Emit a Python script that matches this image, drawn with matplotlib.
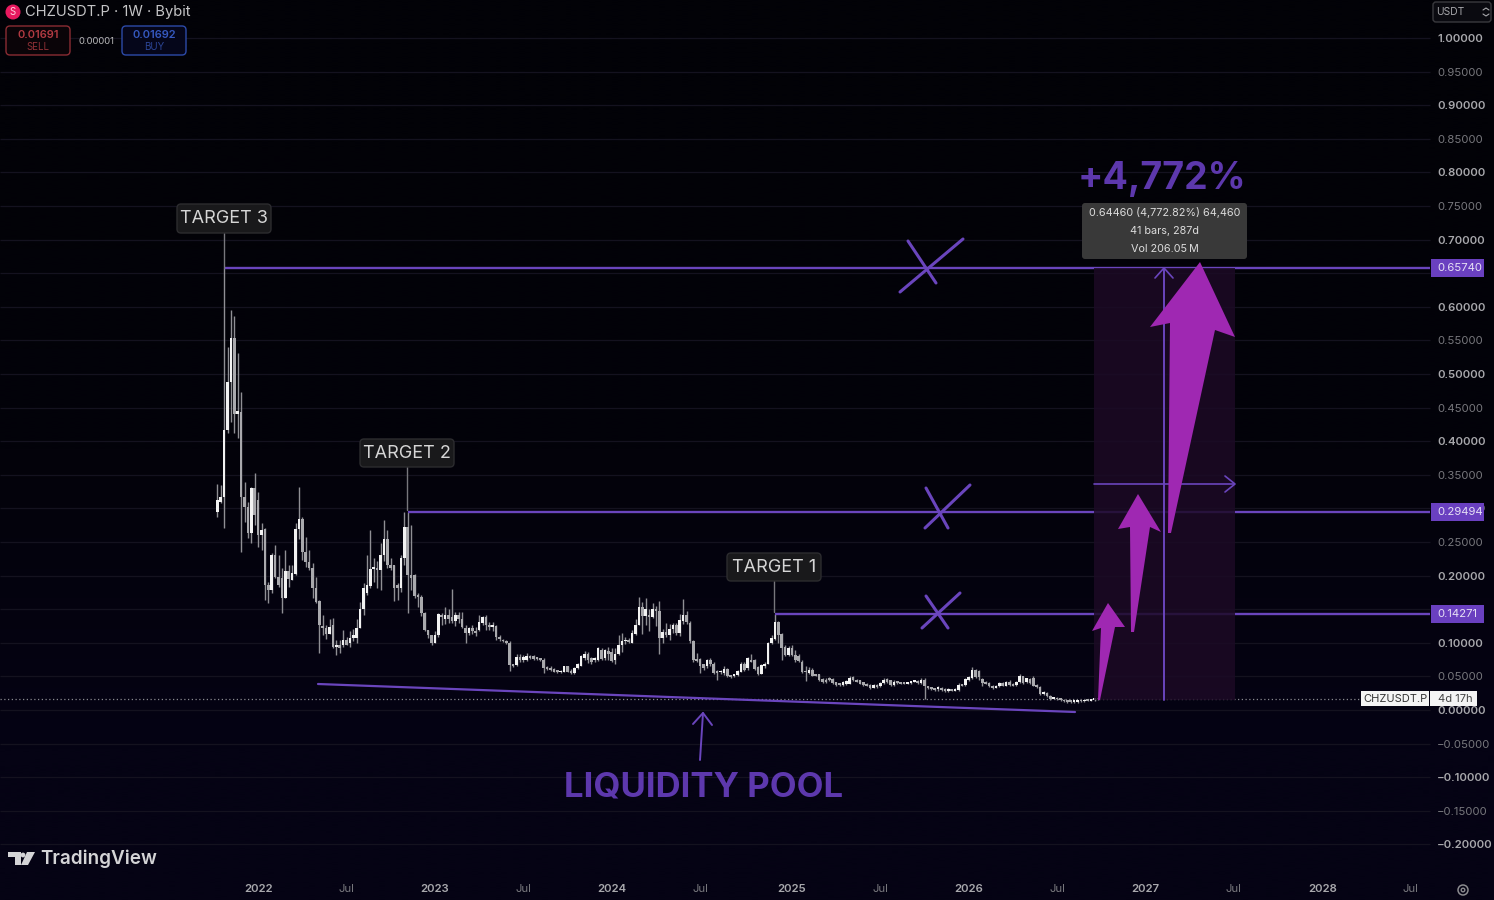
import numpy as np
import matplotlib
matplotlib.use("Agg")
import matplotlib.pyplot as plt
from matplotlib.patches import FancyBboxPatch, Polygon, Rectangle, Circle

plt.rcParams['font.family'] = ['Inter', 'DejaVu Sans']

# ---- weekly candles (CHZUSDT.P, price) ----
opens = [
 .295,.310,.317,.417,.488,.553,.440,.443,.317,.302, .263,.330,.312,.260,.269,.186,.178,.231,.198,.196,
 .167,.207,.193,.202,.269,.284,.235,.220,.211,.182, .162,.125,.122,.113,.126,.094,.097,.097,.104,.100,
 .107,.107,.122,.151,.174,.185,.210,.212,.208,.231, .255,.216,.216,.186,.181,.226,.273,.201,.201,.170,
 .168,.145,.119,.112,.100,.112,.141,.136,.142,.139, .132,.141,.136,.122,.114,.122,.117,.119,.129,.139,
 .127,.123,.125,.108,.104,.103,.100,.068,.067,.079, .075,.075,.080,.080,.078,.077,.075,.064,.063,.061,
 .059,.056,.057,.065,.057,.055,.062,.066,.077,.084, .077,.074,.075,.090,.077,.088,.087,.075,.083,.097,
 .102,.104,.100,.113,.126,.154,.140,.141,.139,.150, .148,.107,.116,.112,.121,.126,.114,.132,.141,.130,
 .102,.076,.076,.068,.066,.075,.069,.057,.056,.055, .061,.051,.050,.052,.057,.069,.062,.074,.075,.064,
 .054,.065,.069,.100,.105,.131,.113,.094,.082,.092, .082,.080,.072,.058,.055,.060,.052,.053,.046,.045,
 .047,.046,.041,.039,.037,.038,.039,.049,.045,.044, .041,.039,.037,.033,.037,.035,.040,.046,.044,.037,
 .042,.041,.040,.039,.040,.042,.043,.040,.044,.035, .033,.032,.031,.033,.031,.028,.030,.029,.030,.037,
 .037,.044,.047,.059,.058,.046,.042,.040,.036,.033, .035,.040,.036,.042,.039,.037,.041,.050,.041,.046,
 .047,.037,.034,.024,.026,.021,.017,.018,.016,.015, .014,.013,.012,.012,.014,.013,.014,.014,.015,.016]
closes = [
 .312,.317,.417,.488,.553,.440,.445,.317,.302,.263, .330,.290,.260,.268,.186,.178,.231,.198,.186,.167,
 .207,.195,.204,.269,.284,.235,.220,.211,.182,.161, .126,.122,.113,.124,.094,.097,.093,.104,.097,.107,
 .112,.122,.151,.181,.186,.210,.212,.208,.231,.255, .216,.212,.181,.181,.226,.273,.201,.197,.170,.168,
 .144,.119,.112,.100,.112,.143,.139,.142,.136,.132, .141,.136,.123,.114,.122,.117,.114,.131,.138,.126,
 .123,.126,.108,.105,.102,.100,.067,.066,.079,.074, .079,.080,.078,.076,.076,.074,.063,.061,.060,.057,
 .056,.058,.065,.057,.055,.063,.068,.080,.084,.074, .072,.077,.092,.076,.089,.084,.073,.084,.097,.102,
 .104,.101,.115,.126,.154,.140,.150,.139,.151,.148, .107,.116,.112,.121,.126,.114,.134,.141,.131,.102,
 .074,.073,.065,.062,.074,.069,.055,.055,.058,.061, .050,.049,.053,.058,.069,.060,.077,.072,.061,.054,
 .067,.069,.100,.107,.131,.112,.092,.082,.092,.082, .074,.073,.056,.056,.060,.051,.051,.044,.041,.042,
 .044,.040,.037,.037,.042,.043,.048,.044,.042,.039, .037,.036,.032,.037,.034,.040,.045,.042,.037,.042,
 .040,.039,.039,.041,.042,.044,.040,.044,.036,.032, .031,.030,.033,.030,.028,.031,.029,.031,.037,.036,
 .046,.049,.060,.049,.049,.040,.039,.035,.032,.036, .040,.036,.041,.037,.036,.042,.051,.040,.047,.040,
 .036,.034,.024,.027,.021,.016,.018,.016,.015,.013, .012,.012,.012,.014,.013,.014,.0135,.015,.016,.0169]
highs = [
 .336,.335,.657,.540,.595,.586,.531,.473,.339,.310, .332,.353,.324,.278,.271,.190,.234,.246,.231,.211,
 .238,.216,.216,.278,.332,.287,.257,.238,.219,.198, .164,.141,.126,.135,.137,.104,.104,.119,.109,.117,
 .120,.136,.161,.189,.231,.268,.226,.221,.248,.283, .268,.226,.216,.189,.231,.295,.295,.275,.203,.174,
 .171,.146,.119,.112,.117,.145,.145,.154,.150,.180, .146,.146,.146,.126,.124,.127,.124,.141,.140,.141,
 .131,.131,.127,.111,.106,.104,.102,.069,.083,.083, .082,.085,.082,.082,.079,.078,.077,.065,.065,.062,
 .060,.059,.066,.066,.061,.064,.070,.082,.088,.087, .079,.079,.094,.092,.091,.094,.092,.093,.112,.115,
 .108,.107,.119,.135,.168,.161,.167,.150,.159,.155, .162,.120,.130,.128,.130,.130,.143,.165,.147,.132,
 .104,.085,.078,.069,.076,.077,.072,.060,.060,.066, .063,.052,.054,.060,.072,.072,.079,.084,.076,.066,
 .069,.071,.101,.112,.1427,.133,.115,.096,.095,.097, .090,.083,.074,.065,.064,.063,.053,.054,.048,.047,
 .049,.047,.042,.040,.043,.045,.050,.050,.046,.045, .042,.040,.038,.038,.038,.041,.047,.047,.045,.044,
 .043,.042,.041,.042,.043,.045,.044,.048,.048,.036, .034,.033,.036,.034,.032,.032,.031,.033,.040,.038,
 .047,.050,.064,.061,.059,.047,.043,.041,.037,.037, .041,.041,.043,.044,.040,.043,.053,.051,.048,.047,
 .050,.038,.035,.028,.027,.022,.019,.019,.017,.016, .015,.014,.013,.015,.015,.015,.015,.016,.017,.018]
lows = [
 .287,.308,.271,.412,.429,.412,.405,.235,.280,.256, .249,.275,.243,.238,.164,.159,.174,.196,.183,.144,
 .167,.183,.193,.201,.254,.223,.213,.208,.167,.159, .085,.112,.106,.113,.092,.082,.085,.094,.096,.094,
 .102,.099,.122,.141,.171,.181,.191,.181,.179,.221, .211,.208,.162,.164,.176,.216,.144,.179,.166,.154,
 .140,.117,.107,.097,.099,.109,.127,.128,.129,.129, .125,.129,.122,.099,.112,.113,.110,.117,.126,.119,
 .119,.117,.104,.103,.101,.098,.058,.064,.065,.072, .072,.073,.076,.074,.074,.073,.055,.060,.058,.056,
 .055,.055,.056,.056,.053,.054,.061,.065,.074,.070, .068,.071,.073,.074,.074,.075,.071,.069,.082,.086,
 .098,.099,.099,.112,.126,.113,.127,.117,.137,.125, .084,.099,.108,.104,.115,.112,.110,.128,.128,.100,
 .072,.071,.055,.060,.062,.066,.053,.044,.053,.052, .049,.047,.049,.050,.056,.058,.060,.071,.059,.052,
 .053,.062,.068,.098,.104,.099,.074,.080,.080,.081, .072,.072,.055,.043,.054,.050,.050,.043,.040,.040,
 .043,.039,.036,.036,.036,.037,.038,.043,.041,.038, .036,.035,.031,.032,.033,.034,.039,.040,.035,.036,
 .039,.038,.038,.038,.039,.041,.039,.039,.016,.031, .030,.029,.028,.029,.027,.027,.028,.028,.029,.035,
 .036,.043,.046,.048,.045,.036,.038,.034,.031,.032, .034,.035,.035,.036,.035,.036,.040,.039,.040,.039,
 .035,.033,.022,.022,.020,.015,.016,.015,.014,.012, .011,.011,.011,.011,.012,.012,.013,.013,.014,.015]

price_ticks = [1.0,.95,.9,.85,.8,.75,.7,.65,.6,.55,.5,.45,.4,.35,.3,.25,.2,.15,.1,.05,0.0,-.05,-.1,-.15,-.2]
minor_price = [.95,.85,.75,.65,.55,.45,.35,.25,.15,.05,-.05,-.15]
level_prices = [0.65740, 0.29494, 0.14271]
level_starts = [2, 56, 164]          # candle index where each level line starts
last_price = 0.0169
week_ticks = [12,38,64,90,116,142,169,195,221,247,273,299,325,351]
week_labels = ['2022','Jul','2023','Jul','2024','Jul','2025','Jul','2026','Jul','2027','Jul','2028','Jul']

W, H = 1494, 900
X0, DX = 217.3, 3.4
Y0, DY = 710.0, 672.0
PURPLE = '#6a45bd'
MAGENTA = '#9f28b2'

fig = plt.figure(figsize=(W/100, H/100), dpi=100, facecolor='#03020c')
ax = fig.add_axes([0, 0, 1, 1])
ax.set_xlim(-X0/DX, (W-X0)/DX)
ax.set_ylim((Y0-H)/DY, Y0/DY)
ax.set_facecolor('#03020c')
for s in ax.spines.values():
    s.set_visible(False)

# background: near black at the top, dark navy at the bottom
grad = np.array([[2,2,7],[3,2,10],[5,3,20]], dtype=float)/255
ax.imshow(grad[:, None, :], extent=(*ax.get_xlim(), *ax.get_ylim()), aspect='auto',
          interpolation='bilinear', origin='upper', zorder=0)

# price grid
grid_end = (1430-X0)/DX
ax.hlines(price_ticks, ax.get_xlim()[0], grid_end, color='#14121f', lw=0.9, zorder=1)

# candles
idx = np.arange(len(opens))
o, c, hi, lo = map(np.array, (opens, closes, highs, lows))
ax.vlines(idx, lo, hi, color='#8f8f94', lw=1.0, zorder=3)
up = c >= o
ax.bar(idx[~up], np.maximum(np.abs(c-o), .0025)[~up], bottom=np.minimum(o, c)[~up], width=0.72,
       color='#a9a9ad', linewidth=0, zorder=4)
ax.bar(idx[up], np.maximum(np.abs(c-o), .0025)[up], bottom=np.minimum(o, c)[up], width=0.72,
       color='#f2f2f2', linewidth=0, zorder=4)

# last price dotted line
ax.hlines(last_price, ax.get_xlim()[0], (1360-X0)/DX, color='#8a8a90', lw=0.9,
          linestyles=(0, (1, 2)), zorder=2)

# level lines
ax.hlines(level_prices, level_starts, grid_end, color=PURPLE, lw=1.7, zorder=5)

# axes ticks
ax.yaxis.tick_right()
ax.set_yticks(price_ticks)
ax.set_yticklabels([('\u2212' if p < 0 else '') + f'{abs(p):.5f}' for p in price_ticks])
ax.tick_params(axis='y', length=0, pad=-41, labelsize=8.2, zorder=2)
for t, p in zip(ax.get_yticklabels(), price_ticks):
    t.set_ha('left')
    minor = any(abs(p-m) < 1e-6 for m in minor_price)
    t.set_color('#77777c' if minor else '#a8a8ac')
    t.set_fontweight('normal' if minor else 'semibold')
ax.set_xticks(week_ticks)
ax.set_xticklabels(week_labels)
ax.tick_params(axis='x', length=0, pad=-11.5, labelsize=8.2)
for t, l in zip(ax.get_xticklabels(), week_labels):
    yr = l != 'Jul'
    t.set_color('#a8a8ac' if yr else '#77777c')
    t.set_fontweight('semibold' if yr else 'normal')

# overlay in pixel coordinates for the hand-drawn annotations
ov = fig.add_axes([0, 0, 1, 1], facecolor='none')
ov.set_xlim(0, W)
ov.set_ylim(H, 0)
ov.axis('off')

def line(xs, ys, color=PURPLE, lw=1.5, z=6, **kw):
    ov.plot(xs, ys, color=color, lw=lw, zorder=z, solid_capstyle='round', **kw)

def box(x0, y0, x1, y1, fc, ec='none', r=3, lw=1.0, z=8):
    ov.add_patch(FancyBboxPatch((x0+r, y0+r), x1-x0-2*r, y1-y0-2*r,
                                boxstyle=f'round,pad={r},rounding_size={r}',
                                fc=fc, ec=ec, lw=lw, zorder=z))

# projection zone
ov.add_patch(Rectangle((1094, 268), 141, 432, fc='#1c0a25', ec='none', zorder=1, alpha=.85))
line([1164, 1164], [700, 268], lw=1.4, z=6)
line([1155, 1164, 1173], [278, 268, 278], lw=1.2, z=6)
line([1094, 1234], [484, 484], lw=1.2, z=6)
line([1225, 1235, 1225], [476, 484, 492], lw=1.2, z=6)

# magenta arrows
ov.add_patch(Polygon([(1098,700),(1101,628),(1092,631),(1108,603),(1125,627),(1115,627),(1100,700)],
                     fc=MAGENTA, ec='none', zorder=7))
ov.add_patch(Polygon([(1131,632),(1130,527),(1118,529),(1138,494),(1161,532),(1150,527),(1134,632)],
                     fc=MAGENTA, ec='none', zorder=7))
ov.add_patch(Polygon([(1168,533),(1170,323),(1150,327),(1200,262),(1235,337),(1215,330),(1171,533)],
                     fc=MAGENTA, ec='none', zorder=7))

# X marks
for (a, b, d, e) in [((900,292),(963,239),(908,241),(936,283)),
                     ((925,528),(970,485),(926,488),(948,528)),
                     ((922,628),(960,593),(926,596),(948,628))]:
    line([a[0], b[0]], [a[1], b[1]], lw=2.2)
    line([d[0], e[0]], [d[1], e[1]], lw=2.2)

# liquidity trend line + arrow
line([318, 1075], [684, 712], lw=1.6)
line([700, 703], [760, 713], lw=1.4)
line([693, 703, 712], [724, 713, 725], lw=1.4)
ov.text(703.5, 787, 'LIQUIDITY POOL', color='#5d38ad', fontsize=25, fontweight='bold', ha='center', va='center')
ov.text(1162, 179, '+4,772%', color='#5d38ad', fontsize=27, fontweight='bold', ha='center', va='center')

# tooltip
box(1082, 203, 1247, 259, '#393939', r=3)
for yy, s in zip([213, 231, 249], ['0.64460 (4,772.82%) 64,460', '41 bars, 287d', 'Vol 206.05\u2009M']):
    ov.text(1165, yy, s, color='#dcdcdc', fontsize=7.8, ha='center', va='center', zorder=9)

# target labels
for (x0, y0, y1, ly, s) in [(177, 204, 233, 268, 'TARGET 3'), (360, 439, 467, 510, 'TARGET 2'), (727, 553, 581, 612, 'TARGET 1')]:
    xc = x0 + 47
    line([xc-.5, xc-.5], [y1, ly], color='#77777c', lw=1.0, z=6)
    box(x0, y0, x0+94, y1, '#19191b', '#2c2c2f', r=4)
    ov.text(xc, (y0+y1)/2, s, color='#d6d6d6', fontsize=13, ha='center', va='center', zorder=9)

# price scale labels for the levels
for p in level_prices:
    y = Y0 - DY*p
    ov.add_patch(Rectangle((1431, y-9), 53, 18, fc='#6a40c0', ec='none', zorder=9))
    ov.text(1437, y, f'{p:.5f}', color='#e6e0f5', fontsize=8.2, ha='left', va='center', zorder=10)

# last price label
yl = Y0 - DY*last_price
ov.add_patch(Rectangle((1361, yl-7.5), 68, 15, fc='#f4f4f4', ec='none', zorder=9))
ov.add_patch(Rectangle((1430, yl-7.5), 47, 15, fc='#f4f4f4', ec='none', zorder=9))
ov.text(1395, yl, 'CHZUSDT.P', color='#333333', fontsize=8, ha='center', va='center', zorder=10)
ov.text(1455, yl, '4d 17h', color='#444444', fontsize=8, ha='center', va='center', zorder=10)

# header
ov.add_patch(Circle((13, 12), 7.5, fc='#e8195f', ec='none', zorder=8))
ov.text(13, 12, 'S', color='#ffd0de', fontsize=7, ha='center', va='center', zorder=9)
ov.text(25, 12, 'CHZUSDT.P \u00b7 1W \u00b7 Bybit', color='#c4c4c6', fontsize=10.6, ha='left', va='center', zorder=9)
box(6, 26, 70, 55, '#0a0408', '#8a2c33', r=4)
ov.text(38, 35, '0.01691', color='#b23a42', fontsize=8, fontweight='semibold', ha='center', va='center', zorder=9)
ov.text(38, 47, 'SELL', color='#8f3036', fontsize=7, ha='center', va='center', zorder=9)
ov.text(96, 41, '0.00001', color='#b8b8b8', fontsize=6.8, ha='center', va='center', zorder=9)
box(122, 26, 186, 55, '#05061a', '#2c4aa8', r=4)
ov.text(154, 35, '0.01692', color='#3558bf', fontsize=8, fontweight='semibold', ha='center', va='center', zorder=9)
ov.text(154, 47, 'BUY', color='#2c4596', fontsize=7, ha='center', va='center', zorder=9)

# currency box
box(1433, 2, 1491, 22, '#0a0a10', '#3a3a3e', r=3)
ov.text(1436, 12, 'USDT', color='#a8a8ac', fontsize=7.4, ha='left', va='center', zorder=9)
line([1483, 1486, 1489], [10, 8, 10], color='#a8a8ac', lw=.8, z=9)
line([1483, 1486, 1489], [14, 16, 14], color='#a8a8ac', lw=.8, z=9)

# TradingView mark
LOGO = '#d4d4d6'
ov.add_patch(Polygon([(8,852),(21,852),(21,865),(15,865),(15,857),(8,857)], fc=LOGO, ec='none', zorder=9))
ov.add_patch(Circle((23, 855), 2.4, fc=LOGO, ec='none', zorder=9))
ov.add_patch(Polygon([(27,852),(35,852),(28,865),(21,865)], fc=LOGO, ec='none', zorder=9))
ov.text(40, 859, 'TradingView', color=LOGO, fontsize=13.6, fontweight='semibold', ha='left', va='center', zorder=9)

# settings gear
ov.add_patch(Circle((1463, 890), 5, fc='none', ec='#8a8a8e', lw=1.1, zorder=9))
ov.add_patch(Circle((1463, 890), 1.8, fc='none', ec='#8a8a8e', lw=1.0, zorder=9))

fig.savefig('out.png', dpi=100, facecolor=fig.get_facecolor())
